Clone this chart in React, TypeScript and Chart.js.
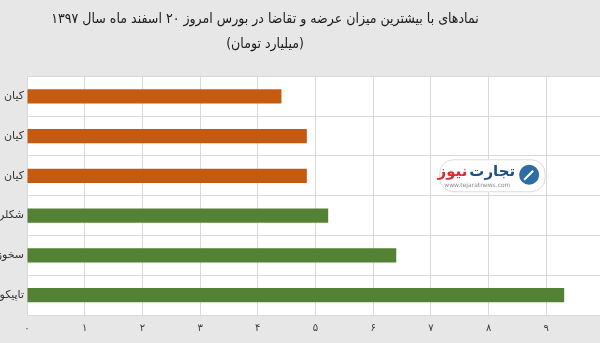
import React, { useEffect, useRef } from "react";
import { Chart, registerables } from "chart.js";

Chart.register(...registerables);

const categories = ["کیان", "کیان", "کیان", "شکلر", "سخوز", "تاپیکو"];
const values = [4.41, 4.85, 4.85, 5.22, 6.4, 9.31];
const barColors = ["#c55a11", "#c55a11", "#c55a11", "#548235", "#548235", "#548235"];
const titleLines = [
  "نمادهای با بیشترین میزان عرضه و تقاضا در بورس امروز ۲۰ اسفند ماه سال ۱۳۹۷",
  "(میلیارد تومان)",
];
const persianDigits = ["۰", "۱", "۲", "۳", "۴", "۵", "۶", "۷", "۸", "۹", "۱۰"];

const OFFSET_LEFT = 75;
const CANVAS_W = 686;
const CANVAS_H = 343;

const bgPlugin = {
  id: "bgPlugin",
  beforeDraw(chart: any) {
    const { ctx, chartArea } = chart;
    ctx.save();
    ctx.fillStyle = "#e7e7e7";
    ctx.fillRect(0, 0, chart.width, chart.height);
    ctx.fillStyle = "#ffffff";
    ctx.fillRect(chartArea.left, chartArea.top, chartArea.right - chartArea.left, chartArea.bottom - chartArea.top);
    ctx.restore();
  },
};

const logoPlugin = {
  id: "logoPlugin",
  afterDatasetsDraw(chart: any) {
    const { ctx, scales } = chart;
    const x0 = scales.x.getPixelForValue(7.15);
    const x1 = scales.x.getPixelForValue(8.98);
    const yc = (scales.y.getPixelForValue(2) + scales.y.getPixelForValue(2.5)) / 2 - 10;
    const h = 32;
    const y0 = yc - h / 2;
    ctx.save();
    ctx.fillStyle = "#ffffff";
    ctx.strokeStyle = "#dcdcdc";
    ctx.lineWidth = 1;
    ctx.beginPath();
    ctx.roundRect(x0, y0, x1 - x0, h, 14);
    ctx.fill();
    ctx.stroke();
    const cx = x1 - 16;
    ctx.fillStyle = "#2d6da3";
    ctx.beginPath();
    ctx.arc(cx, yc - 1, 10, 0, Math.PI * 2);
    ctx.fill();
    ctx.strokeStyle = "#ffffff";
    ctx.lineWidth = 2;
    ctx.beginPath();
    ctx.moveTo(cx - 5, yc + 4);
    ctx.lineTo(cx + 4, yc - 5);
    ctx.stroke();
    ctx.direction = "rtl";
    ctx.textAlign = "right";
    ctx.textBaseline = "middle";
    ctx.font = "bold 15px 'DejaVu Sans'";
    ctx.fillStyle = "#1f4f82";
    ctx.fillText("تجارت", x1 - 30, yc - 4);
    const w = ctx.measureText("تجارت").width;
    ctx.fillStyle = "#d32f2f";
    ctx.fillText("نیوز", x1 - 30 - w - 2, yc - 4);
    ctx.direction = "ltr";
    ctx.textAlign = "center";
    ctx.font = "6px 'DejaVu Sans'";
    ctx.fillStyle = "#888888";
    ctx.fillText("www.tejaratnews.com", (x0 + x1 - 30) / 2, yc + 10);
    ctx.restore();
  },
};

export default function App() {
  const ref = useRef<HTMLCanvasElement>(null);

  useEffect(() => {
    if (!ref.current) return;
    const chart = new Chart(ref.current, {
      type: "bar",
      data: {
        labels: categories,
        datasets: [
          {
            data: values,
            backgroundColor: barColors,
            borderWidth: 0,
            barPercentage: 0.5,
            categoryPercentage: 0.72,
          },
        ],
      },
      plugins: [bgPlugin, logoPlugin],
      options: {
        indexAxis: "y",
        animation: false,
        responsive: false,
        maintainAspectRatio: false,
        layout: { padding: { left: 0, right: 6, top: 0, bottom: 2 } },
        plugins: {
          legend: { display: false },
          tooltip: { enabled: false },
          title: {
            display: true,
            text: titleLines,
            color: "#1a1a1a",
            font: { family: "'DejaVu Sans Condensed', 'DejaVu Sans', sans-serif", size: 14, weight: "normal", lineHeight: 1.8 },
            padding: { top: 7, bottom: 19 },
          },
        },
        scales: {
          x: {
            min: 0,
            max: 10,
            border: { display: false },
            grid: { color: "#d9d9d9", drawTicks: false, lineWidth: 1 },
            ticks: {
              stepSize: 1,
              padding: 7,
              color: "#404040",
              font: { family: "'DejaVu Sans', sans-serif", size: 10 },
              callback: (v: any) => (Number(v) >= 10 ? "" : persianDigits[Number(v)]),
            },
          },
          y: {
            border: { display: false },
            grid: { color: "#d9d9d9", drawTicks: false, lineWidth: 1 },
            afterFit: (scale: any) => {
              scale.width = OFFSET_LEFT + 27;
            },
            ticks: {
              padding: 3,
              color: "#333333",
              font: { family: "'DejaVu Sans', sans-serif", size: 11 },
            },
          },
        },
      },
    });
    return () => chart.destroy();
  }, []);

  return (
    <div
      style={{
        position: "fixed",
        left: 0,
        top: 0,
        width: 600,
        height: 343,
        overflow: "hidden",
        background: "#e7e7e7",
      }}
    >
      <canvas
        ref={ref}
        width={CANVAS_W}
        height={CANVAS_H}
        style={{ position: "absolute", left: -OFFSET_LEFT, top: 0, width: CANVAS_W, height: CANVAS_H }}
      />
    </div>
  );
}
